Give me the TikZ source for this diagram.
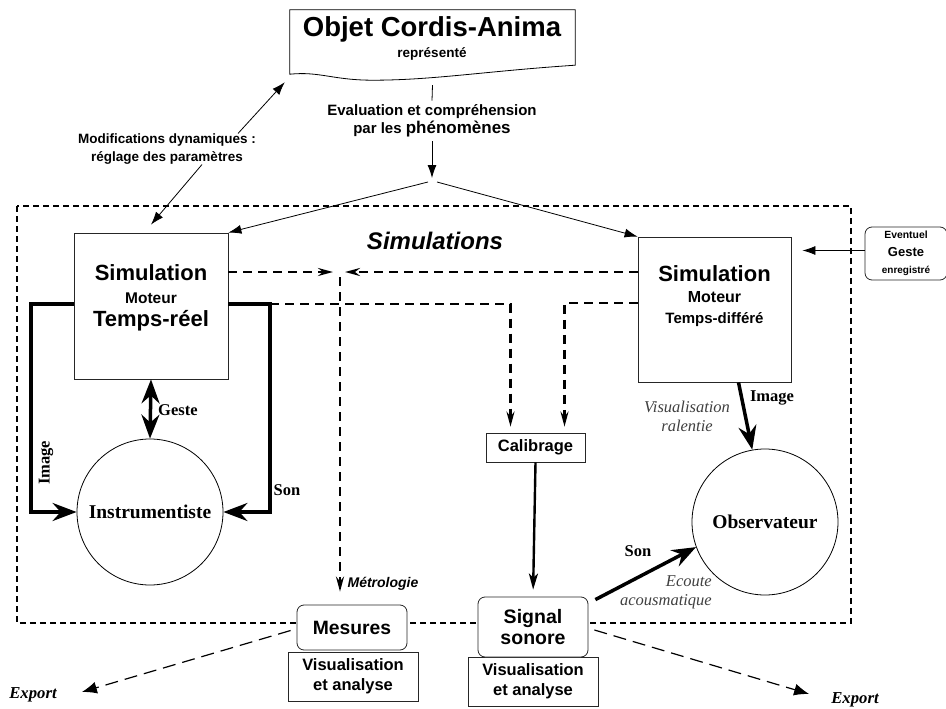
\documentclass[tikz,border=0pt]{standalone}
\usepackage{fontspec}
\setmainfont{Liberation Serif}
\setsansfont{Liberation Sans}
\usetikzlibrary{positioning,calc}
\usetikzlibrary{arrows.meta}
\newcommand\sz[2]{\fontsize{#1}{#2}\selectfont}
\tikzset{
	bigtip/.tip={Stealth[length=24pt,width=18pt,inset=8pt]},
	dtip/.tip={Stealth[length=15pt,width=8pt,inset=5pt]},
	box/.style={draw=black!85,line width=0.8pt,fill=white,inner sep=0pt},
	rbox/.style={box,rounded corners=7pt},
	person/.style={circle,draw=black,line width=0.8pt,fill=white,minimum size=146pt,inner sep=0pt,
		font=\rmfamily\bfseries\sz{19.5}{22}},
	lab/.style={align=center,inner sep=0pt},
	slab/.style={font=\rmfamily\bfseries\sz{16.5}{18},inner sep=0pt},
	ilab/.style={font=\rmfamily\itshape\sz{16.5}{19},text=black!75,inner sep=0pt},
	arr/.style={line width=0.8pt,-{Latex[length=13pt,width=9pt]}},
	thk/.style={line width=3.5pt,-{bigtip}},
	dcon/.style={line width=2.4pt,dash pattern=on 9pt off 6pt,-{dtip}},
	frame/.style={line width=1.6pt,dash pattern=on 6pt off 4pt},
	expo/.style={line width=1.2pt,dash pattern=on 13pt off 7pt,-{Latex[length=15pt,width=12pt]}},
}
\begin{document}
\begin{tikzpicture}[x=1pt,y=-1pt]
	\useasboundingbox (0,0) rectangle (946,709);
	% cadre des simulations
	\draw[frame] (17,206) rectangle (851,623);
	\node[lab,font=\sffamily\bfseries\itshape\sz{24}{26}] (simus) at (435,241) {Simulations};
	
	% objet represente
	\node[minimum width=285pt,minimum height=64pt,inner sep=0pt] (objet) at (432.5,42) {};
	\draw[line width=0.8pt] (objet.north west) -- (objet.north east) -- ([yshift=9pt]objet.south east)
		.. controls +(-90,6) and +(60,0) .. ([shift={(83pt,-6pt)}]objet.south west)
		.. controls +(-40,0) and +(30,-3) .. (objet.south west) -- cycle;
	\node[lab,font=\sffamily\bfseries\sz{27.5}{30}] (titre) at (432,29) {Objet Cordis-Anima};
	\node[lab,font=\sffamily\bfseries\sz{13.5}{15}] (sous) at (432,54) {représenté};
	
	\node[lab,font=\sffamily\bfseries\sz{15}{18}] (eval) at (432,121) {Evaluation et compréhension\\par les {\sz{17}{18}phénomènes}};
	\coordinate (fork) at (432,182);
	\draw[line width=0.8pt] ([yshift=-11pt]objet.south) -- ([yshift=4pt]eval.north);
	\draw[arr] ([yshift=-4pt]eval.south) -- ([yshift=4pt]fork);
	
	% les deux simulations
	\node[box,minimum width=154pt,minimum height=146pt] (simL) at (151,306) {};
	\node[lab,font=\sffamily\bfseries\sz{22}{23}] (simLt) at (151,298) {Simulation\\{\sz{15.5}{22}Moteur}\\Temps-réel};
	\node[box,minimum width=153pt,minimum height=145pt] (simR) at (714.5,309.5) {};
	\node[lab,font=\sffamily\bfseries\sz{22}{21}] (simRt) at (714.5,296) {Simulation\\{\sz{16}{20}Moteur}\\{\sz{15}{20}Temps-différé}};
	\draw[arr] ([xshift=-4pt]fork) -- (simL.north east);
	\draw[arr] ([xshift=5pt]fork) -- (simR.north west);
	
	\node[lab,font=\sffamily\bfseries\sz{13.5}{18}] (modif) at (167,149) {Modifications dynamiques :\\réglage des paramètres};
	\draw[arr] ([xshift=71pt]modif.north) -- ([shift={(-5pt,-8pt)}]objet.south west);
	\draw[arr] ([xshift=35pt]modif.south) -- ([yshift=8pt]simL.north);
	
	\node[rbox,minimum width=82pt,minimum height=53pt,lab,font=\sffamily\bfseries\sz{10.4}{17.5}] (ev) at (906,253.5)
		{Eventuel\\{\sz{13}{17}Geste}\\{\sz{10}{17}enregistré}};
	\coordinate (evIn) at ([yshift=3pt]ev.west);
	\draw[arr,shorten >=11pt] (evIn) -- (evIn -| simR.east);
	
	% instrumentiste
	\node[person] (inst) at (150,512) {Instrumentiste};
	\coordinate (imgC) at (31,304);
	\coordinate (sonC) at (270,304);
	\draw[thk] (simL.west |- imgC) -- (imgC) |- (inst.west);
	\draw[thk] (simL.east |- sonC) -- (sonC) |- (inst.east);
	\draw[line width=3.5pt,{bigtip}-{bigtip}] (simL.south) -- (inst.north);
	\node[slab,anchor=west] (gesteL) at (158,410) {Geste};
	\node[slab,rotate=90] (imageL) at (46,463) {Image};
	\node[slab] (sonL) at (287,490) {Son};
	
	% sorties
	\node[box,minimum width=99pt,minimum height=29pt,font=\sffamily\bfseries\sz{16.5}{18}] (calib) at (535.5,447.5) {Calibrage};
	\node[box,minimum width=130pt,minimum height=49pt,lab,font=\sffamily\bfseries\sz{16.5}{20}] (mesva) at (353,676.5) {Visualisation\\et analyse};
	\node[box,minimum width=130pt,minimum height=49pt,lab,font=\sffamily\bfseries\sz{16.5}{20}] (sigva) at (533,681.5) {Visualisation\\et analyse};
	\node[rbox,minimum width=110pt,minimum height=45pt,font=\sffamily\bfseries\sz{19.3}{21}] (mes) at (352,627.5) {Mesures};
	\node[rbox,minimum width=110pt,minimum height=60pt,lab,font=\sffamily\bfseries\sz{19.5}{21}] (sig) at (533,627) {Signal\\sonore};
	
	\coordinate (merge) at (340,272);
	\draw[dcon,shorten >=7pt] (simL.east |- merge) -- (merge);
	\draw[dcon,shorten >=5pt] (simR.west |- merge) -- (merge);
	\draw[dcon,shorten >=13pt] ([yshift=-5pt]merge) -- (merge |- mes.north);
	\node[lab,font=\sffamily\bfseries\itshape\sz{14}{16}] (metro) at (383,584) {Métrologie};
	\draw[dcon,shorten >=6pt] (sonC) -| ([xshift=-25pt]calib.north);
	\draw[dcon,shorten >=6pt] ([yshift=6.5pt]simR.west) -| ([xshift=29pt]calib.north);
	\draw[line width=2.4pt,-{Stealth[length=16pt,width=9pt,inset=4pt]},shorten >=7pt] (calib.south) -- (sig.north);
	
	% observateur
	\node[person] (obs) at (765,522) {Observateur};
	\draw[thk] ([xshift=24pt]simR.south) -- (obs.100);
	\node[slab] (imageR) at (772,398) {Image};
	\node[ilab,align=center] (ralenti) at (687,416) {Visualisation\\ralentie};
	\draw[thk] ([shift={(7pt,-3pt)}]sig.north east) -- (obs.200);
	\node[slab] (sonR) at (638,551) {Son};
	\node[ilab,align=right,anchor=east] (acous) at (712,592) {Ecoute\\acousmatique};
	
	% export
	\node[font=\rmfamily\bfseries\itshape\sz{16.7}{18},inner sep=0pt] (expL) at (33,695) {Export};
	\node[font=\rmfamily\bfseries\itshape\sz{16.7}{18},inner sep=0pt] (expR) at (855,700) {Export};
	\draw[expo] ([shift={(-6pt,-3pt)}]mes.west) -- ([shift={(25pt,3pt)}]expL.east);
	\draw[expo] ([shift={(6pt,-3pt)}]sig.east) -- ([shift={(-22pt,6pt)}]expR.west);
\end{tikzpicture}
\end{document}
